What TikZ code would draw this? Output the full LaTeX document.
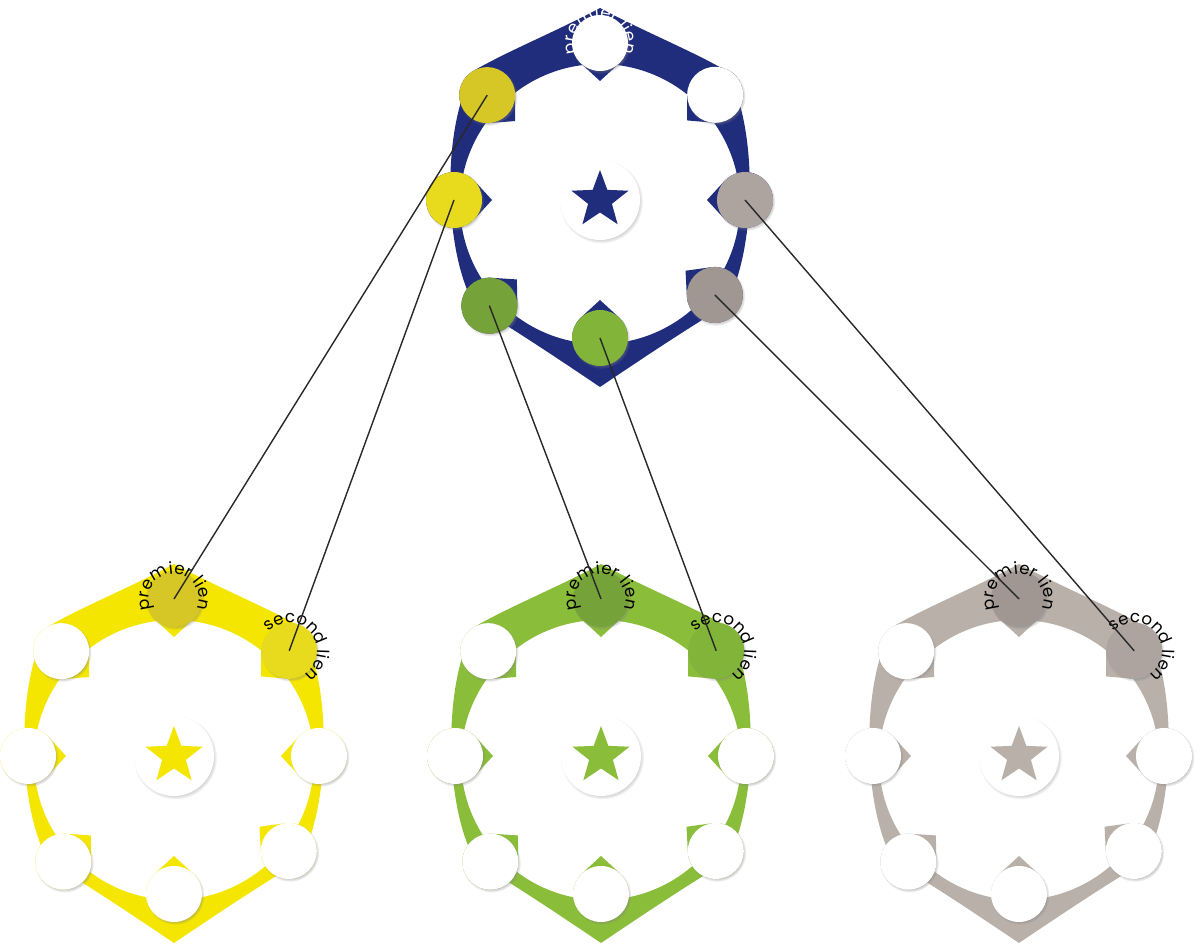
\documentclass[tikz,border=0pt]{standalone}
\usepackage{fontspec}
\usepackage{xcolor}
\usepackage{tikz}
\usetikzlibrary{shapes.geometric,shadows,decorations.text}
\newfontfamily\lienfamily{Poppins}
\newcommand{\lienfont}{\lienfamily\fontsize{9.5}{11}\selectfont}
\definecolor{ringblue}{RGB}{32,45,125}
\definecolor{ringyellow}{RGB}{244,230,0}
\definecolor{ringgreen}{RGB}{138,189,58}
\definecolor{ringgray}{RGB}{185,176,170}
\definecolor{dotyellow}{RGB}{214,198,38}
\definecolor{dotyellowb}{RGB}{232,218,28}
\definecolor{dotgreen}{RGB}{118,162,58}
\definecolor{dotgreenb}{RGB}{130,180,58}
\definecolor{dotgray}{RGB}{160,150,146}
\definecolor{dotgrayb}{RGB}{174,164,159}
\definecolor{linkgray}{RGB}{40,40,40}
\tikzset{
  slot/.style={circle, fill=white, minimum size=1.12cm, inner sep=0pt,
               circular drop shadow={shadow xshift=0.6pt, shadow yshift=-0.8pt,
                                     shadow scale=1.05, opacity=0.5}},
  hub/.style={slot, minimum size=1.6cm},
  starmark/.style={star, star points=5, star point ratio=2.4, minimum size=1.2cm,
                   inner sep=0pt},
  link/.style={draw=linkgray, line width=0.8pt},
  lientext/.style={decorate, decoration={text along path, text align=center, text={#1}}},
  pics/lienring/.style={code={
    % pointed band round the inner circle
    \fill[#1, even odd rule]
      (0,192) .. controls (45,168) and (90,150) .. (125,130)
      .. controls (158,80) and (158,-50) .. (125,-106)
      .. controls (85,-130) and (40,-160) .. (0,-187)
      .. controls (-40,-160) and (-85,-130) .. (-125,-106)
      .. controls (-158,-50) and (-158,80) .. (-125,130)
      .. controls (-90,150) and (-45,168) .. (0,192)
      -- cycle (0,-4) circle[radius=140];
    % small points under the dots
    \foreach \a/\d/\s in {90/157/top, 42.4/156/ur, 0/145/r, -39.6/149/lr,
                          -90/138/b, -136.3/153/ll, 180/146/l, 137.1/154/ul} {
      \fill[#1, shift={(\a:\d)}, rotate=\a+180]
        (38,0) -- (43:28) arc[start angle=43, end angle=317, radius=28] -- cycle;
      \coordinate (-\s) at (\a:\d);
    }
    \node[hub] (-hub) at (0,0) {};
    \node[starmark, fill=#1] (-star) at (0,0) {};
  }}
}

\begin{document}
\begin{tikzpicture}[x=0.02cm, y=0.02cm]
  \useasboundingbox (0,0) rectangle (1200,949);
  \pic (T) at (600,749) {lienring=ringblue};
  \pic (Y) at (174,193) {lienring=ringyellow};
  \pic (G) at (601,193) {lienring=ringgreen};
  \pic (R) at (1019,193) {lienring=ringgray};

  % top group
  \node[slot] (Ttop) at (T-top) {};
  \node[slot] (Tur) at (T-ur) {};
  \node[slot, fill=dotgrayb] (Tr) at (T-r) {};
  \node[slot, fill=dotgray] (Tlr) at (T-lr) {};
  \node[slot, fill=dotgreenb] (Tb) at (T-b) {};
  \node[slot, fill=dotgreen] (Tll) at (T-ll) {};
  \node[slot, fill=dotyellowb] (Tl) at (T-l) {};
  \node[slot, fill=dotyellow] (Tul) at (T-ul) {};

  % lower groups
  \foreach \g in {Y,G,R}
    \foreach \s in {r,lr,b,ll,l,ul}
      \node[slot] (\g\s) at (\g-\s) {};
  \node[slot, fill=dotyellow] (Ytop) at (Y-top) {};
  \node[slot, fill=dotyellowb] (Yur) at (Y-ur) {};
  \node[slot, fill=dotgreen] (Gtop) at (G-top) {};
  \node[slot, fill=dotgreenb] (Gur) at (G-ur) {};
  \node[slot, fill=dotgray] (Rtop) at (R-top) {};
  \node[slot, fill=dotgrayb] (Rur) at (R-ur) {};

  % labels round the dots
  \path[lientext={|\lienfont\color{white}|premier lien}, shift={(Ttop.center)}]
    (250:25) arc[start angle=250, end angle=-70, radius=25];
  \foreach \g in {Y,G,R} {
    \path[lientext={|\lienfont|premier lien}, shift={(\g top.center)}]
      (250:25) arc[start angle=250, end angle=-70, radius=25];
    \path[lientext={|\lienfont|second lien}, shift={(\g ur.center)}]
      (200:28) arc[start angle=200, end angle=-120, radius=28];
  }

  % links
  \draw[link] (Tul.center) -- (Ytop.center);
  \draw[link] (Tl.center) -- (Yur.center);
  \draw[link] (Tll.center) -- (Gtop.center);
  \draw[link] (Tb.center) -- (Gur.center);
  \draw[link] (Tlr.center) -- (Rtop.center);
  \draw[link] (Tr.center) -- (Rur.center);
\end{tikzpicture}
\end{document}
